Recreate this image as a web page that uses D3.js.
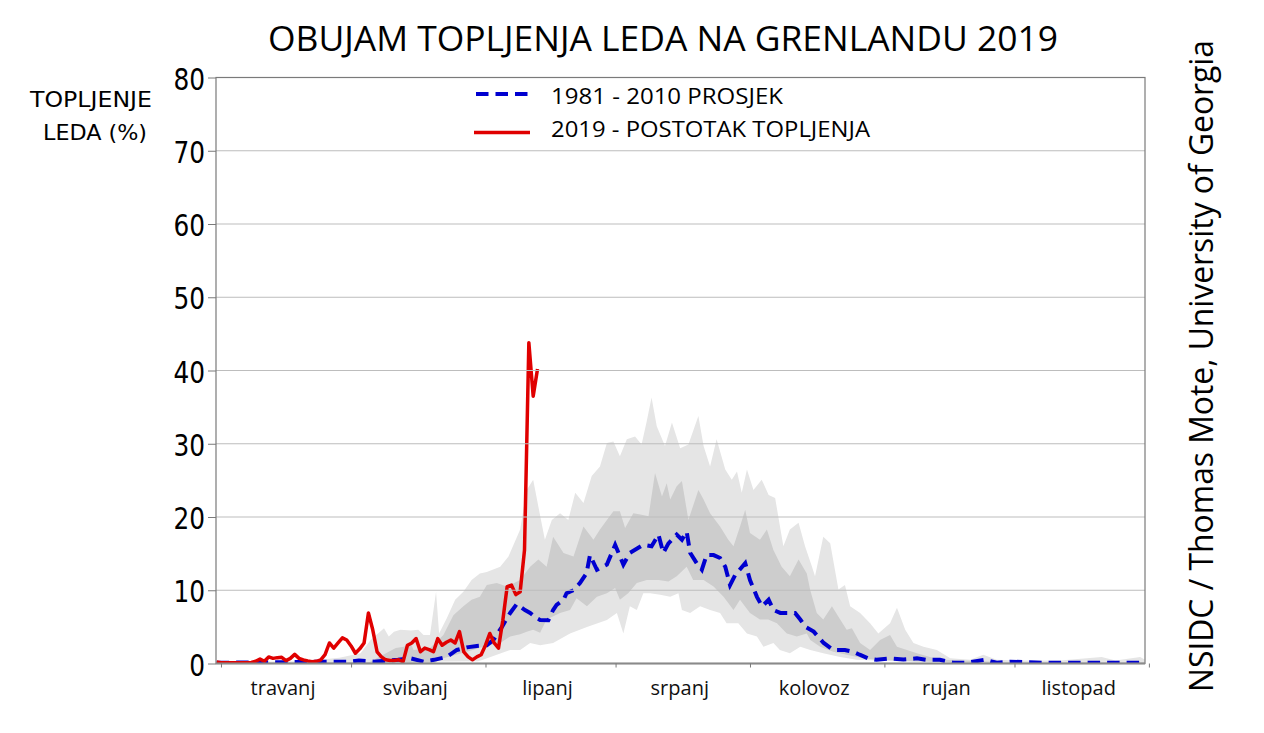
<!DOCTYPE html>
<html><head><meta charset="utf-8">
<script src="https://cdn.jsdelivr.net/npm/d3@7"></script>
<style>body{margin:0;background:#fff;}svg{display:block;}</style>
</head><body>
<svg id="c" width="1264" height="733"></svg>
<script>
// ---------- DATA ----------
const title = "OBUJAM TOPLJENJA LEDA NA GRENLANDU 2019";
const yLabel = ["TOPLJENJE", "LEDA (%)"];
const credit = "NSIDC / Thomas Mote, University of Georgia";
const legendLabels = ["1981 - 2010 PROSJEK", "2019 - POSTOTAK TOPLJENJA"];
const yTicks = [0, 10, 20, 30, 40, 50, 60, 70, 80];
// days counted from 1 April (day 0)
const monthNames = ["travanj", "svibanj", "lipanj", "srpanj", "kolovoz", "rujan", "listopad"];
const monthStarts = [0, 30, 61, 91, 122, 153, 183, 214];

// 2019 daily melt extent (%), first value = 31 March (day -1)
const melt2019Start = -1;
const melt2019 = [0.2,0.1,0.1,0.1,0.1,0.1,0.1,0.1,0.15,0.3,
  0.6,0.3,0.9,0.7,0.8,0.85,0.4,0.7,1.25,0.7,
  0.5,0.35,0.25,0.3,0.5,1.2,2.8,2.1,2.8,3.5,
  3.2,2.4,1.4,2.0,2.8,6.9,4.6,1.6,0.9,0.5,
  0.4,0.4,0.5,0.25,2.5,2.8,3.4,1.6,2.1,1.9,
  1.6,3.4,2.5,2.9,3.2,2.8,4.35,1.6,0.9,0.5,
  0.9,1.2,2.5,4.1,2.8,2.1,5.9,10.5,10.7,9.4,
  9.8,15.5,43.8,36.5,40.2];

// 1981-2010 mean [day, %]
const mean8110 = [[-1,0.1],[9.3,0.15],[18.3,0.2],[25.3,0.25],[29.3,0.25],[31.8,0.4],[35.3,0.25],[40.8,0.5],[43.8,0.7],[46.8,0.25],[49.1,0.5],[52.1,0.9],[54.4,1.85],[56.7,2.2],[59,2.4],[61.3,2.5],[62.8,3.2],[64.8,5],[66.7,6.9],[68.2,8.1],[70.1,7.3],[71.3,6.9],[72.8,6.2],[73.6,5.95],[75.5,5.9],[76.6,7.3],[77.4,8],[79,8.7],[79.7,9.6],[81.3,10],[82,10.5],[82.8,11],[84.3,12.3],[85.1,14.8],[86.7,12.8],[89,13.5],[90.9,16.2],[92.8,13.5],[94.3,15.1],[97.4,16.2],[99.3,16],[100.9,17.6],[102,15.1],[103.2,16.4],[105.1,17.6],[106.3,16.9],[107.4,18.0],[108.2,15.1],[109.7,13.7],[110.9,12.8],[112,14.8],[113.6,14.8],[115.1,14.4],[116.3,13.2],[117.4,10.7],[118.6,12.1],[120.9,13.7],[122,11.4],[123.6,9.1],[124.8,7.8],[126.3,8.7],[127.4,7.3],[129,6.9],[130.5,6.9],[132.4,6.9],[133.6,6.0],[134.8,5.0],[136.7,4.35],[139,2.8],[141.2,1.85],[143.9,1.85],[145.8,1.6],[147.3,1.2],[149.3,0.7],[151.2,0.5],[154.3,0.7],[157.4,0.55],[160.5,0.7],[162.8,0.5],[165.8,0.5],[168.9,0.1],[172,0.1],[176.2,0.5],[178.9,0.1],[182,0.25],[189.3,0.1],[199.3,0.1],[213,0.1]];

// outer (light) range, upper and lower bounds [day, %]
const outerUpper = [[-1,0.2],[19.3,0.3],[27.3,0.8],[32.2,1.4],[34.5,3.2],[37.6,4.8],[38.7,3.7],[39.9,4.35],[41.4,4.6],[43.8,4.5],[45.5,4.6],[46.7,3.9],[48.2,3.9],[49.6,9.8],[50.3,4.1],[52.1,6.2],[54,8.7],[55.9,9.8],[57.8,11.4],[59.7,12.3],[61.3,12.5],[64.4,13.2],[66.3,14.6],[69,18.3],[70.5,23.7],[72,25.1],[73.2,21.4],[74.7,16.9],[76.3,19.6],[78.2,20.5],[80.1,19.6],[81.7,23.3],[83.6,21.9],[85.5,25.6],[87.4,26.9],[89,30.1],[90.5,30.3],[92,28.3],[93.6,30.6],[95.5,31],[97,29.9],[98.2,33.1],[99.3,36.3],[100.5,32.4],[102.4,29.7],[104,32.9],[105.9,29.4],[107.8,29.9],[110.1,33.8],[111.3,29.7],[112.8,26.9],[114.3,30.6],[116.3,26.5],[117.8,25.1],[119,26.2],[120.1,23.3],[121.3,26.5],[122.8,23.7],[124.7,25.1],[126.3,23.0],[127.8,22.6],[129.7,16.0],[131.2,18.3],[133.2,19.2],[134.7,16.0],[136.3,13.2],[137,11.9],[138.9,17.3],[140.5,16.4],[142.4,10.1],[143.9,10.7],[145.1,7.8],[147.4,6.9],[149.7,5.5],[151.6,4.1],[154.3,5.5],[155.9,7.6],[157.8,4.6],[159.7,2.8],[162,2.3],[165.1,1.85],[168.2,0.7],[172.8,0.5],[175.8,1.2],[178.9,0.5],[184.3,0.4],[193.5,0.4],[203.1,0.9],[206.3,0.4],[212,0.9],[213.1,0.5]];
const outerLower = [[-1,0],[59.3,0.3],[60.4,0.5],[66.7,1.85],[69,1.85],[71.3,2.8],[73.6,2.5],[76.6,2.8],[80.5,4.1],[84.4,5.0],[89,5.95],[91.3,6.9],[92.8,4.1],[94.3,7.8],[95.9,7.3],[97.4,9.6],[99,9.6],[101.3,9.4],[103.6,9.1],[105.5,9.6],[106.3,7.3],[108.2,6.9],[110.5,7.8],[112.8,7.3],[115.1,6.9],[116.6,5.5],[119.3,5.5],[121.3,4.1],[123.6,3.7],[125.1,2.3],[127.4,2.8],[128.9,1.85],[131.2,1.4],[133.6,2.3],[135.9,1.85],[138.9,1.4],[142.8,0.9],[146.6,0.5],[160,0.2],[213.1,0.1]];

// inner (dark) range, upper and lower bounds [day, %]
const innerUpper = [[-1,0.1],[34.3,0.2],[40.3,2.1],[42.2,2.3],[43.8,2.8],[44.4,1.85],[48.2,2.1],[51.3,3.9],[53.6,6.6],[55.9,7.8],[57.8,8.7],[59.7,9.1],[61.3,10.7],[63.6,11.0],[65.9,10.5],[69,11.4],[71.3,13.2],[73.2,14.2],[75.1,13.2],[76.6,17.3],[79,15.1],[81.3,14.6],[83.6,18.7],[85.9,16.9],[87.4,18.3],[89,19.6],[90.5,20.8],[92,20.8],[93.2,18.5],[95.1,20.5],[97,20.3],[98.6,20.1],[100.1,26.0],[101.7,22.8],[102.8,24.6],[103.6,22.4],[105.1,24.2],[106.3,24.9],[107.8,19.6],[110.1,23.7],[111.3,22.4],[112.8,20.5],[115.1,18.7],[117,16.9],[118.2,16.0],[119.7,18.7],[120.9,21.0],[122,17.8],[124.3,16.9],[125.9,18.3],[127.4,15.5],[129.3,13.2],[131.2,11.9],[133.2,14.2],[135.1,12.3],[135.9,10],[137.4,6.9],[138.9,6.0],[140.9,7.8],[142.8,6.0],[144.3,4.6],[145.5,4.8],[147.4,2.8],[149.7,1.85],[152,3.2],[154.3,3.9],[155.9,2.3],[158.2,1.85],[160.5,1.4],[163.5,0.9],[166.6,0.5],[179.7,0.2],[213.1,0.2]];
const innerLower = [[-1,0],[49.3,0.1],[51.3,0.7],[56.7,1.6],[60.5,2.3],[64.4,2.8],[66.7,3.7],[69,4.0],[70.5,4.35],[72,4.6],[73.6,4.2],[75.1,6.0],[78.2,6.9],[80.5,7.3],[82,8.9],[84.4,7.8],[86.7,9.1],[89,9.6],[90.9,10.3],[92,8.7],[93.9,9.6],[95.9,11.0],[98.2,11.4],[100.9,11.4],[103.2,11.2],[105.1,11.9],[107.4,13.2],[108.9,11.4],[111.3,11.4],[113.6,10.5],[115.9,9.1],[118.2,7.3],[119.7,8.7],[122,6.9],[124.3,6.0],[126.2,6.0],[128.2,5.5],[130.5,4.1],[132.8,3.7],[135.1,4.1],[135.9,3.2],[138.2,2.3],[141.2,1.6],[144.3,1.2],[148.1,0.7],[151.2,0.5],[170,0.1],[213.1,0.1]];

// ---------- CHART ----------
const svg = d3.select("#c");
const L = 216, R = 1145, T = 77.5, B = 663.5;
const x = d3.scaleLinear().domain([-1.15, 213.1]).range([L, R]);
const y = d3.scaleLinear().domain([0, 80]).range([B, T]);

const line = d3.line().x(d => x(d[0])).y(d => y(d[1]));
function band(upper, lower) {
  const pts = upper.concat(lower.slice().reverse());
  return line(pts) + "Z";
}

const clip = svg.append("defs").append("clipPath").attr("id", "plot")
  .append("rect").attr("x", L).attr("y", T).attr("width", R - L).attr("height", B - T);

const plot = svg.append("g").attr("clip-path", "url(#plot)");
plot.append("path").attr("d", band(outerUpper, outerLower)).attr("fill", "#e5e5e5");
plot.append("path").attr("d", band(innerUpper, innerLower)).attr("fill", "#cdcdcd");

// grid lines
svg.append("g").selectAll("line").data(yTicks.filter(v => v > 0 && v < 80)).join("line")
  .attr("x1", L).attr("x2", R).attr("y1", d => y(d)).attr("y2", d => y(d))
  .attr("stroke", "#bdbdbd").attr("stroke-width", 1);

// mean (dashed blue)
plot.append("path").attr("d", line(mean8110)).attr("fill", "none")
  .attr("stroke", "#0000d0").attr("stroke-width", 4).attr("stroke-dasharray", "12.5,7");

// 2019 (red)
const redPts = melt2019.map((v, i) => [melt2019Start + i, v]);
plot.append("path").attr("d", line(redPts)).attr("fill", "none")
  .attr("stroke", "#e00000").attr("stroke-width", 3.5).attr("stroke-linejoin", "round");

// frame
svg.append("rect").attr("x", L).attr("y", T).attr("width", R - L).attr("height", B - T)
  .attr("fill", "none").attr("stroke", "#7a7a7a").attr("stroke-width", 1.2);
svg.append("line").attr("x1", L).attr("x2", R).attr("y1", B).attr("y2", B)
  .attr("stroke", "#8a8a8a").attr("stroke-width", 2.2);

// y axis ticks and labels
const yAxis = d3.axisLeft(y).tickValues(yTicks).tickSize(8).tickFormat(d3.format("d"));
const ya = svg.append("g").attr("transform", `translate(${L},0)`).call(yAxis);
ya.select(".domain").remove();
ya.selectAll(".tick line").attr("stroke", "#7a7a7a");
ya.selectAll(".tick text").attr("x", 0).attr("dy", null)
  .attr("transform", "translate(-11,11.5) scale(0.8,1)")
  .attr("font-family", "DejaVu Sans").attr("font-size", 31).attr("fill", "#000");

// x axis ticks and month labels
const xAxis = d3.axisBottom(x).tickValues(monthStarts).tickSize(4).tickFormat("");
const xa = svg.append("g").attr("transform", `translate(0,${B})`).call(xAxis);
xa.select(".domain").remove();
xa.selectAll(".tick line").attr("stroke", "#7a7a7a");

svg.append("g").selectAll("text").data(monthNames).join("text")
  .attr("x", (d, i) => x((monthStarts[i] + monthStarts[i + 1]) / 2) - 3)
  .attr("y", 695).attr("text-anchor", "middle")
  .attr("font-family", "Open Sans").attr("font-size", 20).attr("fill", "#111")
  .text(d => d);

// title
svg.append("text").attr("x", 268).attr("y", 51).attr("textLength", 790)
  .attr("lengthAdjust", "spacingAndGlyphs")
  .attr("font-family", "Open Sans").attr("font-size", 34).attr("fill", "#000").text(title);

// y label
svg.append("text").attr("x", 30).attr("y", 107).attr("textLength", 122)
  .attr("lengthAdjust", "spacingAndGlyphs")
  .attr("font-family", "DejaVu Sans").attr("font-size", 21).attr("fill", "#000").text(yLabel[0]);
svg.append("text").attr("x", 43).attr("y", 140).attr("textLength", 104)
  .attr("lengthAdjust", "spacingAndGlyphs")
  .attr("font-family", "DejaVu Sans").attr("font-size", 21).attr("fill", "#000").text(yLabel[1]);

// legend
svg.append("line").attr("x1", 476).attr("x2", 528).attr("y1", 94).attr("y2", 94)
  .attr("stroke", "#0000d0").attr("stroke-width", 4).attr("stroke-dasharray", "12.5,7");
svg.append("line").attr("x1", 474).attr("x2", 530).attr("y1", 132.5).attr("y2", 132.5)
  .attr("stroke", "#e00000").attr("stroke-width", 3.5);
svg.append("text").attr("x", 551).attr("y", 104).attr("textLength", 232)
  .attr("lengthAdjust", "spacingAndGlyphs")
  .attr("font-family", "Open Sans").attr("font-size", 22).attr("fill", "#000").text(legendLabels[0]);
svg.append("text").attr("x", 551).attr("y", 137).attr("textLength", 319)
  .attr("lengthAdjust", "spacingAndGlyphs")
  .attr("font-family", "Open Sans").attr("font-size", 22).attr("fill", "#000").text(legendLabels[1]);

// credit
svg.append("text").attr("transform", "translate(1213,692) rotate(-90)")
  .attr("textLength", 652).attr("lengthAdjust", "spacingAndGlyphs")
  .attr("font-family", "Open Sans").attr("font-size", 32).attr("fill", "#000").text(credit);
</script>
</body></html>
